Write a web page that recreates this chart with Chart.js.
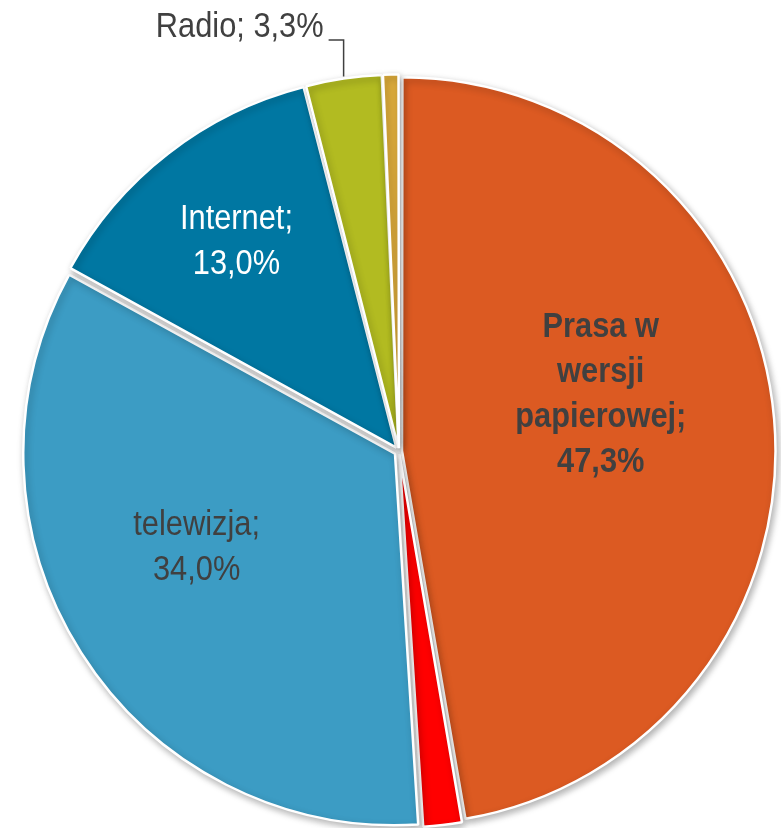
<!DOCTYPE html>
<html>
<head>
<meta charset="utf-8">
<script src="https://cdn.jsdelivr.net/npm/chart.js@4/dist/chart.umd.min.js"></script>
<style>
  html, body { margin: 0; padding: 0; background: #fff; }
  #wrap { width: 781px; height: 828px; }
</style>
</head>
<body>
<div id="wrap"><canvas id="pie"></canvas></div>
<script>
// Dane wykresu
const kategorie = ['Prasa w wersji papierowej', 'Inne', 'telewizja', 'Internet', 'Radio', 'Brak odpowiedzi'];
const wartosci = [47.3, 1.7, 34.0, 13.0, 3.3, 0.7];
const textos = [
  ['Prasa w', 'wersji', 'papierowej;', '47,3%'],
  null,
  ['telewizja;', '34,0%'],
  ['Internet;', '13,0%'],
  ['Radio; 3,3%'],
  null
];
const kolory = ['#DC5A22', '#FF0000', '#3C9CC4', '#0077A2', '#B2BB21', '#DBAA3B'];

const FONT = "'Liberation Sans', Arial, sans-serif";
const ESTRECHO = 0.88; // letra condensada
const DESP = 5.5;      // separacion de porciones en px

// estilo de etiquetas: [fraccion de radio, giro en grados, color, peso]
const estiloEtiq = [
  [0.55, -11, '#404040', 'bold'],
  null,
  [0.59, 7, '#404040', 'normal'],
  [0.70, 0, '#ffffff', 'normal'],
  'fuera',
  null
];

const total = wartosci.reduce((a, b) => a + b, 0);
// Chart.js desplaza offset/4 * (1 + fix); se calcula para obtener DESP px
function corr(v) {
  const circ = v / total * 2 * Math.PI;
  return 1 + (1 - Math.sin(Math.min(Math.PI, circ)));
}
const offsets = wartosci.map(v => DESP * 4 / corr(v));

// sombra de las porciones
const sombra = {
  id: 'sombra',
  beforeDatasetsDraw(chart) {
    const ctx = chart.ctx;
    ctx.save();
    ctx.shadowColor = 'rgba(0,0,0,0.3)';
    ctx.shadowBlur = 7;
    ctx.shadowOffsetX = 2;
    ctx.shadowOffsetY = 3;
  },
  afterDatasetsDraw(chart) {
    chart.ctx.restore();
  }
};

function texto(ctx, t, x, y) {
  ctx.save();
  ctx.translate(x, y);
  ctx.scale(ESTRECHO, 1);
  ctx.fillText(t, 0, 0);
  ctx.restore();
}

// etiquetas de datos
const etiquetas = {
  id: 'etiquetas',
  afterDraw(chart) {
    const ctx = chart.ctx;
    const arcs = chart.getDatasetMeta(0).data;
    ctx.save();
    ctx.textAlign = 'center';
    ctx.textBaseline = 'middle';
    arcs.forEach((arc, i) => {
      const est = estiloEtiq[i];
      const lineas = textos[i];
      if (!est || !lineas) return;
      const off = (arc.options.offset || 0) / 4 * corr(wartosci[i]);
      const mid = (arc.startAngle + arc.endAngle) / 2;
      const cx = arc.x + Math.cos(mid) * off;
      const cy = arc.y + Math.sin(mid) * off;
      if (est === 'fuera') {
        // linea guia hacia arriba y texto a la izquierda
        const px = cx + Math.cos(mid) * arc.outerRadius;
        const py = cy + Math.sin(mid) * arc.outerRadius;
        const ty = 40;
        ctx.strokeStyle = '#404040';
        ctx.lineWidth = 1.5;
        ctx.beginPath();
        ctx.moveTo(px, py - 2);
        ctx.lineTo(px, ty);
        ctx.lineTo(px - 15, ty);
        ctx.stroke();
        ctx.font = 'normal 35px ' + FONT;
        ctx.fillStyle = '#404040';
        ctx.textAlign = 'right';
        texto(ctx, lineas[0], px - 20, ty - 13);
        ctx.textAlign = 'center';
        return;
      }
      const [frac, giro, color, peso] = est;
      const ang = mid + giro * Math.PI / 180;
      const r = arc.outerRadius * frac;
      const x = cx + Math.cos(ang) * r;
      const y = cy + Math.sin(ang) * r;
      ctx.font = peso + ' 35px ' + FONT;
      ctx.fillStyle = color;
      const lh = 45;
      const y0 = y - (lineas.length - 1) * lh / 2;
      lineas.forEach((t, k) => texto(ctx, t, x, y0 + k * lh));
    });
    ctx.restore();
  }
};

new Chart(document.getElementById('pie'), {
  type: 'pie',
  data: {
    labels: kategorie,
    datasets: [{
      data: wartosci,
      backgroundColor: kolory,
      borderColor: '#ffffff',
      borderWidth: 2.5,
      offset: offsets,
      radius: 371
    }]
  },
  options: {
    responsive: true,
    maintainAspectRatio: false,
    animation: false,
    layout: { padding: { left: 17, right: 0, top: 74, bottom: 0 } },
    plugins: {
      legend: { display: false },
      tooltip: { enabled: false }
    }
  },
  plugins: [sombra, etiquetas]
});
</script>
</body>
</html>
